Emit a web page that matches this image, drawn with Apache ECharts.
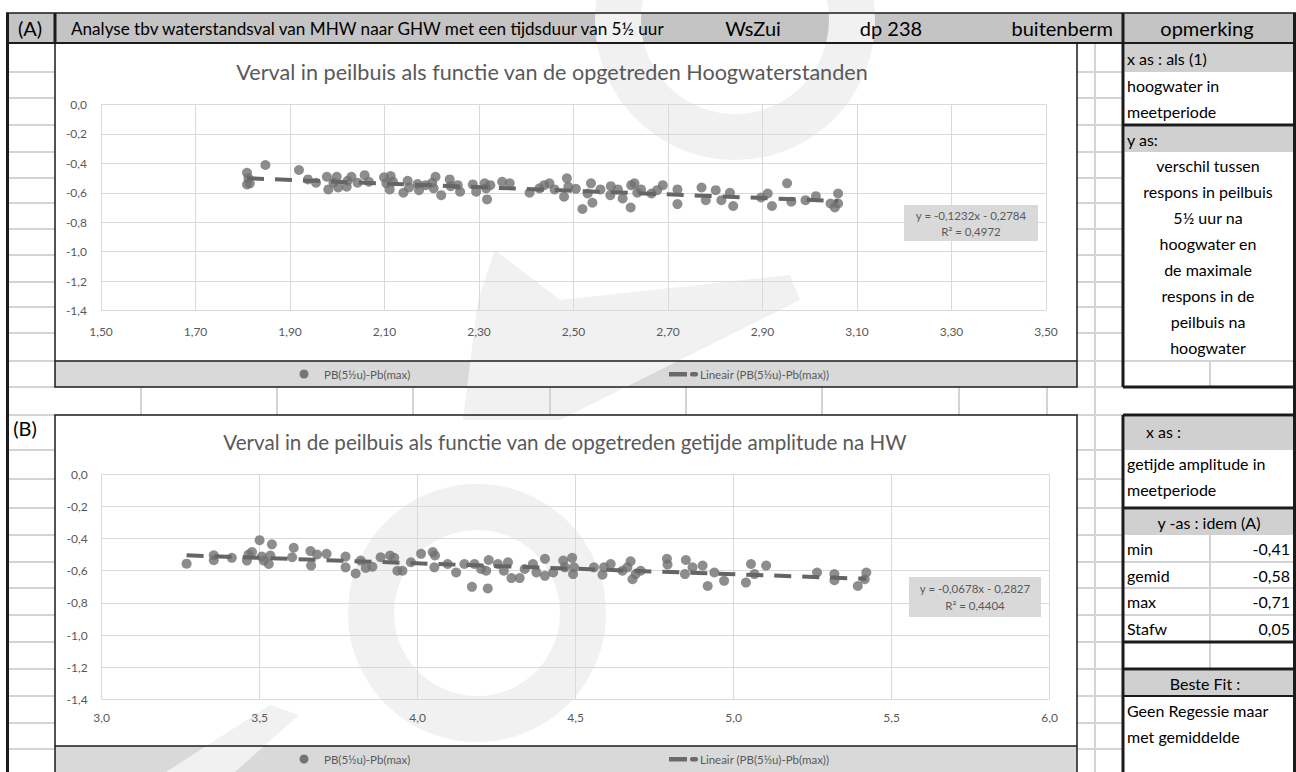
<!DOCTYPE html>
<html><head><meta charset="utf-8">
<script src="https://cdn.jsdelivr.net/npm/echarts@6/dist/echarts.min.js"></script>
<style>html,body{margin:0;padding:0;background:#fff}#c{width:1296px;height:772px}</style>
</head><body><div id="c"></div>
<script>
// ---------------- data ----------------
const headerTitle = 'Analyse tbv waterstandsval van MHW naar GHW met een tijdsduur van 5½ uur';
const headerCells = ['WsZui', 'dp 238', 'buitenberm', 'opmerking'];
const titleA = 'Verval in peilbuis als functie van de opgetreden Hoogwaterstanden';
const titleB = 'Verval in de peilbuis als functie van de opgetreden getijde amplitude na HW';
const seriesName = 'PB(5½u)-Pb(max)';
const trendName = 'Lineair (PB(5½u)-Pb(max))';

const xA = [1.809,1.812,1.809,1.815,1.848,1.919,1.938,1.955,1.978,1.981,1.992,1.999,2.002,2.022,2.020,2.030,2.043,2.058,2.067,2.099,2.104,2.113,2.118,2.111,2.140,2.149,2.152,2.170,2.173,2.187,2.201,2.208,2.204,2.220,2.238,2.240,2.255,2.260,2.287,2.294,2.312,2.315,2.317,2.324,2.349,2.365,2.407,2.428,2.438,2.449,2.460,
 2.486,2.489,2.480,2.505,2.519,2.530,2.537,2.540,2.557,2.579,2.578,2.594,2.604,2.621,2.622,2.629,2.635,2.643,2.665,2.677,2.689,2.720,2.720,2.771,2.780,2.801,2.813,2.831,2.838,2.897,2.911,2.920,2.952,2.961,2.991,3.013,3.044,3.053,3.060,3.060];
const yA = [-0.464,-0.502,-0.543,-0.536,-0.411,-0.445,-0.509,-0.532,-0.491,-0.577,-0.532,-0.491,-0.564,-0.518,-0.559,-0.491,-0.532,-0.480,-0.525,-0.495,-0.536,-0.486,-0.525,-0.577,-0.600,-0.518,-0.564,-0.541,-0.582,-0.548,-0.532,-0.491,-0.570,-0.616,-0.509,-0.555,-0.548,-0.593,-0.543,-0.593,-0.536,-0.570,-0.645,-0.548,-0.525,-0.536,-0.600,-0.570,-0.548,-0.536,-0.577,
 -0.502,-0.559,-0.627,-0.573,-0.710,-0.605,-0.536,-0.668,-0.577,-0.555,-0.616,-0.577,-0.639,-0.700,-0.548,-0.536,-0.600,-0.577,-0.605,-0.582,-0.548,-0.577,-0.677,-0.564,-0.650,-0.582,-0.650,-0.600,-0.690,-0.632,-0.605,-0.690,-0.536,-0.661,-0.650,-0.623,-0.673,-0.700,-0.605,-0.673];

const xB = [3.269,3.355,3.355,3.412,3.465,3.460,3.476,3.500,3.507,3.513,3.529,3.534,3.539,3.608,3.603,3.661,3.663,3.682,3.712,3.772,3.772,3.804,3.820,3.836,3.857,3.883,3.913,3.926,3.936,3.952,3.979,4.011,4.048,4.055,4.053,4.095,4.122,4.148,4.172,4.180,4.201,4.217,4.222,4.225,4.254,4.273,4.286,4.297,4.323,4.339,4.365,4.376,4.403,4.403,4.429,4.461,4.466,
 4.489,4.492,4.495,4.558,4.585,4.590,4.611,4.648,4.664,4.674,4.680,4.690,4.706,4.789,4.791,4.849,4.846,4.870,4.902,4.918,4.939,4.970,5.039,5.055,5.066,5.103,5.264,5.319,5.319,5.393,5.420,5.415];
const yB = [-0.556,-0.504,-0.535,-0.520,-0.499,-0.537,-0.484,-0.410,-0.512,-0.537,-0.558,-0.505,-0.436,-0.457,-0.516,-0.478,-0.568,-0.499,-0.495,-0.512,-0.579,-0.617,-0.537,-0.583,-0.575,-0.516,-0.505,-0.520,-0.600,-0.600,-0.547,-0.495,-0.484,-0.505,-0.579,-0.558,-0.611,-0.558,-0.700,-0.558,-0.589,-0.600,-0.710,-0.533,-0.558,-0.600,-0.547,-0.646,-0.646,-0.589,-0.558,-0.611,-0.526,-0.632,-0.611,-0.537,-0.579,
 -0.520,-0.621,-0.579,-0.579,-0.625,-0.579,-0.558,-0.600,-0.579,-0.541,-0.653,-0.621,-0.600,-0.526,-0.562,-0.533,-0.621,-0.579,-0.568,-0.695,-0.611,-0.663,-0.674,-0.558,-0.621,-0.568,-0.611,-0.621,-0.659,-0.695,-0.611,-0.653];

const trendA = [-0.1232, -0.2784];          // slope, intercept
const trendB = [-0.0678, -0.2827];
const eqA = ['y = -0,1232x - 0,2784', 'R² = 0,4972'];
const eqB = ['y = -0,0678x - 0,2827', 'R² = 0,4404'];

const panelA = ['x as : als (1)', 'hoogwater in', 'meetperiode', 'y as:'];
const panelAText = ['verschil tussen', 'respons in peilbuis', '5½ uur na', 'hoogwater en', 'de maximale', 'respons in de', 'peilbuis na', 'hoogwater'];
const panelB = ['x as :', 'getijde amplitude in', 'meetperiode', 'y -as : idem (A)'];
const statLabels = ['min', 'gemid', 'max', 'Stafw'];
const statValues = ['-0,41', '-0,58', '-0,71', '0,05'];
const fitText = ['Beste Fit :', 'Geen Regessie maar', 'met gemiddelde'];

// axis ranges
const xRangeA = [1.5, 3.5, 0.2];
const xRangeB = [3.0, 6.0, 0.5];
const yRange = [-1.4, 0, 0.2];

// ---------------- helpers ----------------
const FONT = 'Lato, "Liberation Sans", "DejaVu Sans", sans-serif';
const mctx = document.createElement('canvas').getContext('2d');
function fit(str, target) { mctx.font = '100px ' + FONT; return 100 * target / mctx.measureText(str).width; }
const G = [];
function R(x, y, w, h, fill, z, r) { G.push({type:'rect', silent:true, z: z == null ? 1 : z, shape:{x, y, width:w, height:h, r: r||0}, style:{fill}}); }
function L(x1, y1, x2, y2, stroke, lw, z) { G.push({type:'line', silent:true, z: z == null ? 6 : z, shape:{x1, y1, x2, y2}, style:{stroke, lineWidth:lw}}); }
function T(x, y, text, size, fill, align) {
  G.push({type:'text', silent:true, z:7, x, y, style:{text, x:0, y:0, fontSize:size, fontFamily:FONT, fill: fill || '#000',
    align: align || 'left', verticalAlign:'middle', textAlign: align || 'left', textVerticalAlign:'middle'}});
}
const DARK = '#1b1b1b', SHEET = '#d4d4d4', GH = '#c4c4c4', GP = '#d0d0d0', GL = '#d9d9d9', TXT = '#595959';

// ---------------- watermark (light decoration) ----------------
const WM = '#f1f1f1';
G.push({type:'circle', silent:true, z:2, shape:{cx:477, cy:613, r:106}, style:{fill:'none', stroke:WM, lineWidth:46}});
G.push({type:'circle', silent:true, z:2, shape:{cx:735, cy:20, r:117}, style:{fill:'none', stroke:WM, lineWidth:46}});
G.push({type:'polygon', silent:true, z:2, shape:{points:[[463,420],[560,420],[800,300],[790,275],[560,300],[495,250],[478,300]]}, style:{fill:WM}});
G.push({type:'polygon', silent:true, z:2, shape:{points:[[166,772],[235,772],[299,715],[270,705]]}, style:{fill:WM}});

// ---------------- sheet layout ----------------
// header
R(6, 13, 1290, 30, GH, 1);
L(6, 13, 1296, 13, DARK, 1.5);
L(6, 43, 1296, 43, DARK, 2);
L(7.5, 13, 7.5, 772, DARK, 3);
L(55, 13, 55, 43, DARK, 3);
L(1123, 13, 1123, 43, DARK, 3);
L(1294.5, 13, 1294.5, 772, DARK, 3);
T(30, 28, '(A)', 20, '#000', 'center');
T(71, 28, headerTitle, fit(headerTitle, 596), '#000', 'left');
T(753, 28, headerCells[0], 20, '#000', 'center');
T(891, 28, headerCells[1], 20, '#000', 'center');
T(1113, 28, headerCells[2], 20, '#000', 'right');
T(1207, 28, headerCells[3], 20, '#000', 'center');

// spreadsheet lines
const rowsUp = [72, 98, 125, 152, 178, 203, 229, 255, 282, 307, 333, 361, 387];
const rowsLo = [415, 450, 479, 508, 535, 562, 588, 615, 642, 669, 696, 723, 749];
rowsUp.concat(rowsLo).forEach(r => { L(9, r, 55, r, SHEET, 2, 3); L(1077, r, 1123, r, SHEET, 2, 3); });
L(1095, 43, 1095, 772, SHEET, 2, 3);
[141, 277, 413, 550, 686, 822, 959, 1047].forEach(c => L(c, 387, c, 415, SHEET, 2, 3));
T(25, 428, '(B)', 20, '#000', 'center');

// chart frames and legend bars
[[43, 361], [415, 746]].forEach(([top, leg]) => {
  R(55, leg, 1022, 26, GL, 1);
  L(55, leg, 1077, leg, DARK, 1.5);
  G.push({type:'rect', silent:true, z:6, shape:{x:55, y:top, width:1022, height:(top === 43 ? 344 : 360)}, style:{fill:'none', stroke:DARK, lineWidth:1.5}});
  const ly = leg + 13;
  G.push({type:'circle', silent:true, z:7, shape:{cx:304, cy:ly, r:4.5}, style:{fill:'#757575'}});
  T(324, ly, seriesName, 11.5, TXT);
  R(669, ly - 2, 18, 4.5, '#6a6a6a', 7);
  R(690, ly - 2, 8, 4.5, '#6a6a6a', 7, 2);
  T(700, ly, trendName, 11.5, TXT);
});
T(552, 72, titleA, fit(titleA, 632), TXT, 'center');
T(565, 442, titleB, fit(titleB, 684), TXT, 'center');

// equation boxes
R(904, 205, 134, 36, GL, 3);
T(971, 215, eqA[0], 11.5, TXT, 'center');
T(971, 231, eqA[1], 11.5, TXT, 'center');
R(909, 577, 132, 40, GL, 3);
T(975, 588, eqB[0], 11.5, TXT, 'center');
T(975, 605, eqB[1], 11.5, TXT, 'center');

// right panel A
const PF = 16;
R(1124.5, 44, 169, 28, GP, 1);
T(1127, 58, panelA[0], PF);
T(1127, 85, panelA[1], PF);
T(1127, 111.5, panelA[2], PF);
L(1123, 125, 1296, 125, DARK, 3);
R(1124.5, 126.5, 169, 25.5, GP, 1);
T(1127, 139, panelA[3], PF);
panelAText.forEach((s, i) => T(1208, 165 + i * 26.1, s, PF, '#000', 'center'));
L(1123, 361, 1293, 361, SHEET, 2, 3);
L(1210, 361, 1210, 387, SHEET, 2, 3);
L(1123, 43, 1123, 387, DARK, 3);
L(1123, 387, 1296, 387, DARK, 3);

// right panel B
L(1123, 415, 1296, 415, DARK, 3);
L(1123, 415, 1123, 772, DARK, 3);
R(1124.5, 416.5, 169, 33.5, GP, 1);
T(1146, 431, panelB[0], PF);
T(1127, 463, panelB[1], PF);
T(1127, 489, panelB[2], PF);
L(1123, 508, 1296, 508, DARK, 3);
R(1124.5, 509.5, 169, 25.5, GP, 1);
T(1209, 522, panelB[3], PF, '#000', 'center');
[562, 588, 615].forEach(r => L(1123, r, 1293, r, SHEET, 2, 3));
L(1210, 535, 1210, 669, SHEET, 2, 3);
statLabels.forEach((s, i) => { T(1127, 548.5 + i * 26.6, s, PF); T(1290, 548.5 + i * 26.6, statValues[i], PF, '#000', 'right'); });
L(1123, 642, 1296, 642, DARK, 3);
L(1123, 669, 1296, 669, DARK, 3);
R(1124.5, 670.5, 169, 25.5, GP, 1);
T(1205, 683, fitText[0], PF, '#000', 'center');
L(1123, 696, 1296, 696, DARK, 2);
T(1127, 710, fitText[1], PF);
T(1127, 736, fitText[2], PF);

// ---------------- chart ----------------
const offA = xRangeA[0];
const fmt = d => v => v.toFixed(d).replace('.', ',');
const ptsA = xA.map((x, i) => [x - offA, yA[i]]);
const ptsB = xB.map((x, i) => [x, yB[i]]);
function trendPts(xs, c, off) {
  const lo = Math.min(...xs), hi = Math.max(...xs);
  return [[lo - off, c[0] * lo + c[1]], [hi - off, c[0] * hi + c[1]]];
}
const axisCommon = {
  axisLine:{show:false}, axisTick:{show:false}, z:5,
  splitLine:{show:true, lineStyle:{color:'#d9d9d9', width:1}}
};
const lblStyle = {color:TXT, fontSize:12, fontFamily:FONT};

const option = {
  animation:false,
  backgroundColor:'#ffffff',
  grid:[
    {left:101, top:104.5, width:945, height:206, outerBoundsMode:'none', containLabel:false},
    {left:101.6, top:474.3, width:948, height:225, outerBoundsMode:'none', containLabel:false}
  ],
  xAxis:[
    Object.assign({gridIndex:0, type:'value', min:0, max:xRangeA[1] - offA, interval:xRangeA[2],
      axisLabel:Object.assign({margin:15, formatter:v => (v + offA).toFixed(2).replace('.', ',')}, lblStyle)}, axisCommon),
    Object.assign({gridIndex:1, type:'value', min:xRangeB[0], max:xRangeB[1], interval:xRangeB[2],
      axisLabel:Object.assign({margin:12, formatter:fmt(1)}, lblStyle)}, axisCommon)
  ],
  yAxis:[
    Object.assign({gridIndex:0, type:'value', min:yRange[0], max:yRange[1], interval:yRange[2],
      axisLabel:Object.assign({margin:14, formatter:fmt(1)}, lblStyle)}, axisCommon),
    Object.assign({gridIndex:1, type:'value', min:yRange[0], max:yRange[1], interval:yRange[2],
      axisLabel:Object.assign({margin:14, formatter:fmt(1)}, lblStyle)}, axisCommon)
  ],
  series:[
    {type:'scatter', name:seriesName, xAxisIndex:0, yAxisIndex:0, data:ptsA, symbolSize:10, z:10, itemStyle:{color:'#707070'}},
    {type:'line', name:trendName, xAxisIndex:0, yAxisIndex:0, data:trendPts(xA, trendA, offA), symbol:'none', z:11,
      lineStyle:{color:'#656565', width:4, type:[17, 11]}},
    {type:'scatter', name:seriesName, xAxisIndex:1, yAxisIndex:1, data:ptsB, symbolSize:10, z:10, itemStyle:{color:'#707070'}},
    {type:'line', name:trendName, xAxisIndex:1, yAxisIndex:1, data:trendPts(xB, trendB, 0), symbol:'none', z:11,
      lineStyle:{color:'#656565', width:4, type:[17, 11]}}
  ],
  graphic:{elements:G}
};
const chart = echarts.init(document.getElementById('c'), null, {renderer:'svg'});
chart.setOption(option);
</script>
</body></html>
